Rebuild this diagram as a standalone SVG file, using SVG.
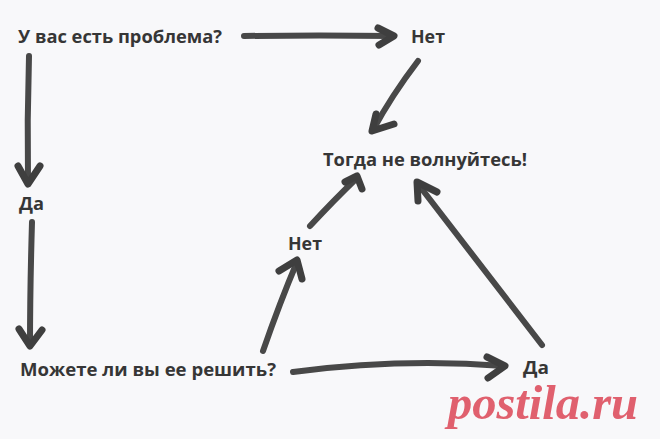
<svg xmlns="http://www.w3.org/2000/svg" width="660" height="439" viewBox="0 0 660 439">
<style>
.t{font-family:"Open Sans","Noto Sans",sans-serif;font-weight:700;font-size:18px;fill:#363636}
.a{fill:none;stroke:#484848;stroke-width:6;stroke-linecap:round;stroke-linejoin:round}
.h{fill:none;stroke:#3f3f3f;stroke-width:7;stroke-linecap:round;stroke-linejoin:round}
.w{font-family:"Liberation Serif","DejaVu Serif",serif;font-style:italic;font-weight:bold;font-size:48px;fill:#e0606e}
</style>
<rect width="660" height="439" fill="#f8f8fa"/>
<g id="q1"><text class="t" x="18" y="43" textLength="204" lengthAdjust="spacingAndGlyphs">У вас есть проблема?</text></g>
<g id="no1"><text class="t" x="411" y="43" textLength="34" lengthAdjust="spacingAndGlyphs">Нет</text></g>
<g id="calm"><text class="t" x="323" y="166" textLength="204" lengthAdjust="spacingAndGlyphs">Тогда не волнуйтесь!</text></g>
<g id="yes1"><text class="t" x="19" y="210" textLength="25" lengthAdjust="spacingAndGlyphs">Да</text></g>
<g id="no2"><text class="t" x="288" y="250" textLength="34" lengthAdjust="spacingAndGlyphs">Нет</text></g>
<g id="q2"><text class="t" x="20" y="376" textLength="256" lengthAdjust="spacingAndGlyphs">Можете ли вы ее решить?</text></g>
<g id="yes2"><text class="t" x="523" y="374" textLength="26" lengthAdjust="spacingAndGlyphs">Да</text></g>
<g id="connectors">
<path class="a" d="M244,36 Q320,35 393,36"/>
<path class="h" d="M378,28 L394,36 L379,45"/>
<path class="a" d="M29,56 Q27,120 28,183"/>
<path class="h" d="M18,166 L28,184 L40,166"/>
<path class="a" d="M32,222 Q30,290 30,345"/>
<path class="h" d="M19,329 L30,346 L42,330"/>
<path class="a" d="M418,61 Q392,95 373,130"/>
<path class="h" d="M376,114 L372,131 L394,124"/>
<path class="a" d="M310,226 Q334,200 357,178"/>
<path class="h" d="M345,182 L357,176 L362,189"/>
<path class="a" d="M263,351 Q280,302 297,262"/>
<path class="h" d="M279,271 L297,260 L302,279"/>
<path class="a" d="M293,372 Q400,358 504,366"/>
<path class="h" d="M487,357 L505,366 L488,378"/>
<path class="a" d="M542,345 Q480,265 418,184"/>
<path class="h" d="M418,201 L417,182 L437,192"/>
</g>
<text class="w" x="448" y="419" textLength="190" lengthAdjust="spacingAndGlyphs">postila.ru</text>
</svg>
